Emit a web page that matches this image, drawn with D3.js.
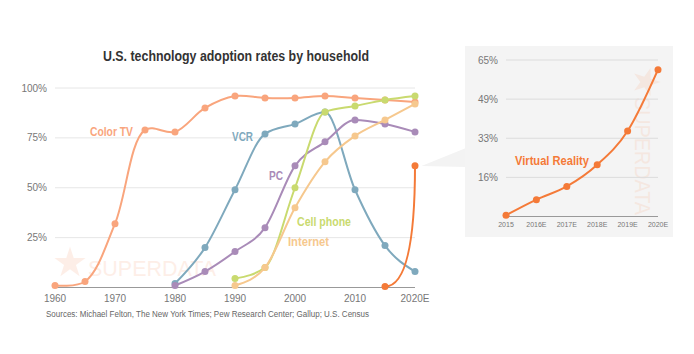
<!DOCTYPE html>
<html>
<head>
<meta charset="utf-8">
<script src="https://cdn.jsdelivr.net/npm/d3@7"></script>
<style>
  body { margin: 0; background: #fff; }
  svg { display: block; font-family: "Liberation Sans", Arial, sans-serif; }
</style>
</head>
<body>
<svg id="chart" width="694" height="354"></svg>
<script>
// main chart data, one value per 5 years (null = no data)
const years = [1960, 1965, 1970, 1975, 1980, 1985, 1990, 1995, 2000, 2005, 2010, 2015, 2020];
const colorTV   = [1, 3, 32, 79, 78, 90, 96, 95, 95, 96, 95, 94, 93];
const vcr       = [null, null, null, null, 2, 20, 49, 77, 82, 88, 49, 21, 8];
const pc        = [null, null, null, null, 1, 8, 18, 30, 61, 73, 84, 82, 78];
const cellPhone = [null, null, null, null, null, null, 4.5, 10, 50, 88, 91, 94, 96];
const internet  = [null, null, null, null, null, null, 1, 10, 40, 63, 76, 84, 92];
const vrMain    = [null, null, null, null, null, null, null, null, null, null, null, 0.5, 61];

const xTickValues = [1960, 1970, 1980, 1990, 2000, 2010, 2020];
const xTickLabels = ["1960", "1970", "1980", "1990", "2000", "2010", "2020E"];
const yTickValues = [25, 50, 75, 100];
const yTickLabels = ["25%", "50%", "75%", "100%"];

// inset (virtual reality)
const vrYears  = ["2015", "2016E", "2017E", "2018E", "2019E", "2020E"];
const vrValues = [0.5, 7, 12.5, 21.5, 35.5, 61];
const vrTickValues = [16.25, 32.5, 48.75, 65];
const vrTickLabels = ["16%", "33%", "49%", "65%"];

const svg = d3.select("#chart");

const x = d3.scaleLinear().domain([1960, 2020]).range([55, 415]);
const y = d3.scaleLinear().domain([0, 100]).range([287.5, 88]);

// title
svg.append("text")
    .attr("x", 236).attr("y", 61)
    .attr("text-anchor", "middle")
    .attr("font-size", 14).attr("font-weight", "bold")
    .attr("fill", "#333")
    .attr("textLength", 266).attr("lengthAdjust", "spacingAndGlyphs")
    .text("U.S. technology adoption rates by household");

// watermark
const wm = svg.append("g").attr("fill", "#f9a57d").attr("opacity", 0.18);
wm.append("path")
    .attr("d", d3.symbol(d3.symbolStar, 300)())
    .attr("transform", "translate(70,263)");
wm.append("text")
    .attr("x", 88).attr("y", 276)
    .attr("font-size", 22)
    .attr("textLength", 128).attr("lengthAdjust", "spacingAndGlyphs")
    .text("SUPERDATA");

// grid + y labels
svg.append("g").selectAll("line")
    .data(yTickValues)
    .join("line")
    .attr("x1", 55).attr("x2", 415)
    .attr("y1", d => y(d)).attr("y2", d => y(d))
    .attr("stroke", "#e6e6e6");

svg.append("g").selectAll("text")
    .data(yTickValues)
    .join("text")
    .attr("x", 47).attr("y", d => y(d))
    .attr("dy", "0.35em")
    .attr("text-anchor", "end")
    .attr("font-size", 10).attr("fill", "#777")
    .text((d, i) => yTickLabels[i]);

// x axis
svg.append("line")
    .attr("x1", 55).attr("x2", 415)
    .attr("y1", y(0)).attr("y2", y(0))
    .attr("stroke", "#999");

svg.append("g").selectAll("text")
    .data(xTickValues)
    .join("text")
    .attr("x", d => x(d)).attr("y", 302)
    .attr("text-anchor", "middle")
    .attr("font-size", 10).attr("fill", "#777")
    .text((d, i) => xTickLabels[i]);

svg.append("text")
    .attr("x", 46).attr("y", 317)
    .attr("font-size", 8.5).attr("fill", "#666")
    .attr("textLength", 323).attr("lengthAdjust", "spacingAndGlyphs")
    .text("Sources: Michael Felton, The New York Times; Pew Research Center; Gallup; U.S. Census");

// callout + inset panel
svg.append("path")
    .attr("d", "M421.5,166L466,148L466,167Z")
    .attr("fill", "#f3f3f3");
svg.append("rect")
    .attr("x", 465).attr("y", 46)
    .attr("width", 208).attr("height", 191)
    .attr("fill", "#f4f4f4");

const series = [
    {name: "Color TV", values: colorTV, color: "#f9a57d", curve: d3.curveCatmullRom, lx: 90, ly: 136, lw: 43},
    {name: "VCR", values: vcr, color: "#7fa9bd", curve: d3.curveMonotoneX, lx: 232, ly: 140.5, lw: 21},
    {name: "PC", values: pc, color: "#a98bb8", curve: d3.curveMonotoneX, lx: 269, ly: 180, lw: 14},
    {name: "Cell phone", values: cellPhone, color: "#c9da6f", curve: d3.curveMonotoneX, lx: 297, ly: 225.5, lw: 54},
    {name: "Internet", values: internet, color: "#f6c88e", curve: d3.curveMonotoneX, lx: 288, ly: 246, lw: 41}
];

series.forEach(s => {
    const pts = years.map((yr, i) => [yr, s.values[i]]);
    const line = d3.line()
        .defined(d => d[1] != null)
        .x(d => x(d[0]))
        .y(d => y(d[1]))
        .curve(s.curve);
    const g = svg.append("g");
    g.append("path")
        .attr("d", line(pts))
        .attr("fill", "none")
        .attr("stroke", s.color)
        .attr("stroke-width", 2);
    g.selectAll("circle")
        .data(pts.filter(d => d[1] != null))
        .join("circle")
        .attr("cx", d => x(d[0])).attr("cy", d => y(d[1]))
        .attr("r", 3.5)
        .attr("fill", s.color);
    svg.append("text")
        .attr("x", s.lx).attr("y", s.ly)
        .attr("font-size", 13).attr("font-weight", "bold")
        .attr("fill", s.color)
        .attr("textLength", s.lw).attr("lengthAdjust", "spacingAndGlyphs")
        .text(s.name);
});

// VR in the main chart: curve bends up sharply at the end
const vrPts = years.map((yr, i) => [yr, vrMain[i]]).filter(d => d[1] != null);
const p = d3.path();
p.moveTo(x(vrPts[0][0]), y(vrPts[0][1]));
p.quadraticCurveTo(x(vrPts[1][0]), y(vrPts[0][1]), x(vrPts[1][0]), y(vrPts[1][1]));
svg.append("path")
    .attr("d", p.toString())
    .attr("fill", "none")
    .attr("stroke", "#f47a38")
    .attr("stroke-width", 2);
svg.append("g").selectAll("circle")
    .data(vrPts)
    .join("circle")
    .attr("cx", d => x(d[0])).attr("cy", d => y(d[1]))
    .attr("r", 3.5)
    .attr("fill", "#f47a38");

// ---- inset chart ----
const ix = d3.scalePoint().domain(vrYears).range([506, 658]);
const iy = d3.scaleLinear().domain([0, 65]).range([216.5, 60]);

const wm2 = svg.append("g").attr("fill", "#f47a38").attr("opacity", 0.1);
wm2.append("path")
    .attr("d", d3.symbol(d3.symbolStar, 240)())
    .attr("transform", "translate(646,82) rotate(90)");
wm2.append("text")
    .attr("transform", "translate(635,97) rotate(90)")
    .attr("font-size", 22)
    .attr("textLength", 118).attr("lengthAdjust", "spacingAndGlyphs")
    .text("SUPERDATA");

svg.append("g").selectAll("line")
    .data(vrTickValues)
    .join("line")
    .attr("x1", 506).attr("x2", 658)
    .attr("y1", d => iy(d)).attr("y2", d => iy(d))
    .attr("stroke", "#dcdcdc");

svg.append("g").selectAll("text")
    .data(vrTickValues)
    .join("text")
    .attr("x", 498).attr("y", d => iy(d))
    .attr("dy", "0.35em")
    .attr("text-anchor", "end")
    .attr("font-size", 10).attr("fill", "#777")
    .text((d, i) => vrTickLabels[i]);

svg.append("line")
    .attr("x1", 506).attr("x2", 658)
    .attr("y1", iy(0)).attr("y2", iy(0))
    .attr("stroke", "#999");

svg.append("g").selectAll("text")
    .data(vrYears)
    .join("text")
    .attr("x", d => ix(d)).attr("y", 226.5)
    .attr("text-anchor", "middle")
    .attr("font-size", 7).attr("fill", "#777")
    .text(d => d);

const vrLine = d3.line()
    .x((d, i) => ix(vrYears[i]))
    .y(d => iy(d))
    .curve(d3.curveMonotoneX);

svg.append("path")
    .attr("d", vrLine(vrValues))
    .attr("fill", "none")
    .attr("stroke", "#f47a38")
    .attr("stroke-width", 2);

svg.append("g").selectAll("circle")
    .data(vrValues)
    .join("circle")
    .attr("cx", (d, i) => ix(vrYears[i])).attr("cy", d => iy(d))
    .attr("r", 3.5)
    .attr("fill", "#f47a38");

svg.append("text")
    .attr("x", 515).attr("y", 165)
    .attr("font-size", 13).attr("font-weight", "bold")
    .attr("fill", "#f47a38")
    .attr("textLength", 74).attr("lengthAdjust", "spacingAndGlyphs")
    .text("Virtual Reality");
</script>
</body>
</html>
